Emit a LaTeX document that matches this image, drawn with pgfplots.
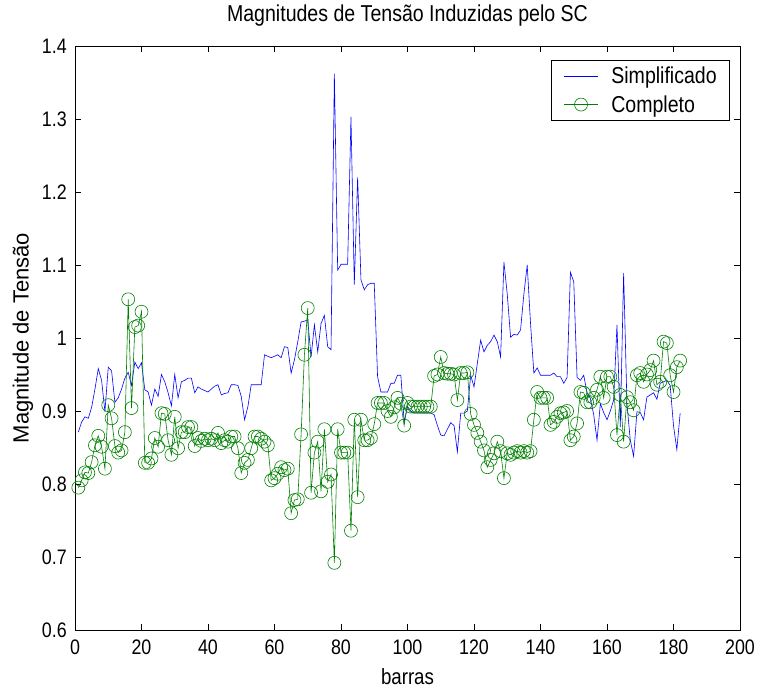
\documentclass[border=0pt]{standalone}
\usepackage{pgfplots}
\pgfplotsset{compat=1.18}
\usepackage{pgfplotstable}
\usepackage{fontspec}
\setmainfont{Liberation Sans}[FakeStretch=0.85]
\newfontfamily\ylfont{Liberation Sans}
\definecolor{mblue}{rgb}{0,0,1}
\definecolor{mgreen}{rgb}{0,0.5,0}
\pgfplotstableread{
x y
1 0.871
2 0.885
3 0.892
4 0.890
5 0.905
6 0.930
7 0.958
8 0.942
9 0.899
10 0.960
11 0.955
12 0.912
13 0.918
14 0.930
15 0.945
16 0.953
17 0.935
18 0.967
19 0.958
20 0.966
21 0.929
22 0.926
23 0.908
24 0.930
25 0.920
26 0.950
27 0.940
28 0.925
29 0.907
30 0.950
31 0.918
32 0.940
33 0.942
34 0.945
35 0.945
36 0.925
37 0.933
38 0.930
39 0.928
40 0.926
41 0.930
42 0.934
43 0.936
44 0.922
45 0.924
46 0.925
47 0.936
48 0.936
49 0.935
50 0.920
51 0.888
52 0.906
53 0.936
54 0.936
55 0.936
56 0.936
57 0.977
58 0.975
59 0.973
60 0.975
61 0.977
62 0.973
63 0.988
64 0.987
65 0.952
66 0.970
67 0.995
68 1.022
69 1.023
70 1.025
71 0.974
72 1.018
73 0.981
74 1.020
75 1.031
76 0.988
77 0.984
78 1.362
79 1.093
80 1.101
81 1.101
82 1.101
83 1.303
84 1.073
85 1.220
86 1.080
87 1.066
88 1.073
89 1.075
90 1.075
91 0.947
92 0.926
93 0.926
94 0.926
95 0.938
96 0.938
97 0.949
98 0.949
99 0.885
100 0.906
101 0.900
102 0.897
103 0.897
104 0.897
105 0.897
106 0.897
107 0.897
108 0.895
109 0.880
110 0.867
111 0.866
112 0.875
113 0.884
114 0.880
115 0.844
116 0.897
117 0.897
118 0.900
119 0.949
120 0.933
121 0.965
122 0.997
123 0.981
124 0.990
125 0.995
126 1.004
127 0.995
128 0.974
129 1.104
130 1.060
131 1.001
132 1.005
133 1.004
134 1.011
135 1.060
136 1.100
137 1.020
138 0.952
139 0.959
140 0.949
141 0.949
142 0.949
143 0.949
144 0.952
145 0.947
146 0.947
147 0.938
148 0.946
149 1.090
150 1.077
151 0.946
152 0.942
153 0.949
154 0.925
155 0.917
156 0.895
157 0.860
158 0.910
159 0.898
160 0.888
161 0.900
162 0.915
163 1.018
164 0.878
165 1.089
166 0.910
167 0.860
168 0.838
169 0.899
170 0.898
171 0.888
172 0.919
173 0.922
174 0.925
175 0.916
176 0.938
177 0.940
178 0.942
179 0.935
180 0.880
181 0.847
182 0.897
}\simp
\pgfplotstableread{
x y
1 0.795
2 0.805
3 0.816
4 0.815
5 0.830
6 0.853
7 0.866
8 0.851
9 0.821
10 0.908
11 0.890
12 0.852
13 0.843
14 0.846
15 0.871
16 1.053
17 0.904
18 1.015
19 1.017
20 1.036
21 0.829
22 0.829
23 0.835
24 0.863
25 0.851
26 0.897
27 0.896
28 0.860
29 0.840
30 0.892
31 0.849
32 0.871
33 0.871
34 0.878
35 0.878
36 0.852
37 0.863
38 0.859
39 0.862
40 0.860
41 0.862
42 0.860
43 0.870
44 0.856
45 0.860
46 0.858
47 0.865
48 0.865
49 0.849
50 0.815
51 0.829
52 0.833
53 0.849
54 0.865
55 0.865
56 0.862
57 0.858
58 0.853
59 0.805
60 0.808
61 0.814
62 0.823
63 0.819
64 0.821
65 0.760
66 0.778
67 0.779
68 0.868
69 0.977
70 1.041
71 0.788
72 0.843
73 0.858
74 0.790
75 0.875
76 0.803
77 0.813
78 0.692
79 0.875
80 0.843
81 0.843
82 0.843
83 0.736
84 0.888
85 0.782
86 0.888
87 0.860
88 0.860
89 0.863
90 0.882
91 0.911
92 0.911
93 0.911
94 0.900
95 0.892
96 0.905
97 0.918
98 0.910
99 0.880
100 0.911
101 0.906
102 0.906
103 0.906
104 0.906
105 0.906
106 0.906
107 0.906
108 0.948
109 0.950
110 0.974
111 0.952
112 0.951
113 0.951
114 0.950
115 0.915
116 0.952
117 0.952
118 0.953
119 0.896
120 0.881
121 0.870
122 0.858
123 0.846
124 0.823
125 0.833
126 0.842
127 0.858
128 0.845
129 0.808
130 0.842
131 0.840
132 0.843
133 0.845
134 0.843
135 0.845
136 0.843
137 0.845
138 0.888
139 0.926
140 0.918
141 0.918
142 0.918
143 0.881
144 0.885
145 0.892
146 0.897
147 0.898
148 0.900
149 0.860
150 0.865
151 0.883
152 0.926
153 0.925
154 0.912
155 0.912
156 0.918
157 0.929
158 0.947
159 0.918
160 0.947
161 0.947
162 0.933
163 0.867
164 0.922
165 0.858
166 0.919
167 0.912
168 0.901
169 0.949
170 0.952
171 0.940
172 0.950
173 0.956
174 0.969
175 0.936
176 0.940
177 0.995
178 0.993
179 0.949
180 0.926
181 0.960
182 0.969
}\comp
\begin{document}
\begin{tikzpicture}[x=1pt,y=1pt]
\begin{axis}[
  scale only axis,
  width=665pt, height=584pt,
  xmin=0, xmax=200, ymin=0.6, ymax=1.4,
  xtick={0,20,...,200},
  ytick={0.6,0.7,...,1.4},
  tick align=inside,
  major tick length=6pt,
  axis line style={line width=0.8pt},
  tick style={line width=0.6pt,black},
  /pgf/number format/assume math mode=true,
  ticklabel style={font=\fontsize{21}{23}\selectfont, inner sep=0pt},
  xticklabel style={yshift=-10pt},
  yticklabel style={xshift=-8pt, /pgf/number format/fixed},
  title={Magnitudes de Tensão Induzidas pelo SC},
  title style={font=\fontsize{23}{25}\selectfont, at={(axis description cs:0.5,1)}, anchor=center, yshift=24pt},
  xlabel={barras},
  xlabel style={font=\fontsize{22}{24}\selectfont, inner sep=0pt, at={(axis description cs:0.5,0)}, anchor=base, yshift=-55pt},
  ylabel={Magnitude de Tensão},
  ylabel style={font=\ylfont\fontsize{22}{24}\selectfont, inner sep=0pt, at={(axis description cs:-0.0782,0.5)}, anchor=center},
  legend style={at={(rel axis cs:0.985,0.976)}, anchor=north east,
    font=\fontsize{23}{25}\selectfont, draw=black, line width=0.6pt,
    inner xsep=12pt, inner ysep=6pt, row sep=8pt, cells={anchor=west},
    nodes={inner ysep=1pt, inner xsep=1pt},
    /tikz/every odd column/.append style={column sep=12pt}},
  legend cell align=left,
  legend image code/.code={\draw[mark repeat=2,mark phase=2,#1] plot coordinates {(0pt,0pt) (17pt,0pt) (34pt,0pt)};},
]
\addplot[mblue, line width=0.6pt, no markers] table {\simp};
\addlegendentry{Simplificado}
\addplot[mgreen, line width=0.6pt, mark=o, mark size=6.5pt, mark options={line width=0.6pt}] table {\comp};
\addlegendentry{Completo}
\coordinate (bl) at (rel axis cs:0,0);
\coordinate (tr) at (rel axis cs:1,1);
\end{axis}
\pgfresetboundingbox
\path[use as bounding box] ([xshift=-75pt,yshift=-59pt]bl) rectangle ([xshift=20pt,yshift=46pt]tr);
\end{tikzpicture}
\end{document}
